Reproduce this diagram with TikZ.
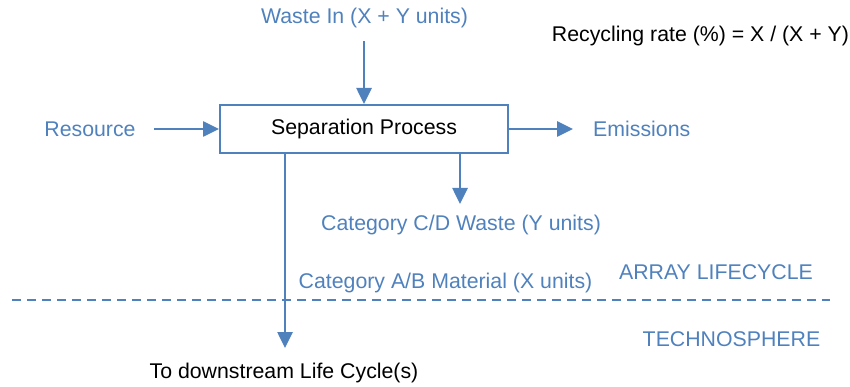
\documentclass[tikz,border=0pt]{standalone}
\usepackage{fontspec}
\setmainfont{Liberation Sans}
\usetikzlibrary{arrows.meta}
\definecolor{flowblue}{HTML}{4F81BD}
\begin{document}
\begin{tikzpicture}[x=1pt,y=-1pt,
  lbl/.style={text=flowblue, font=\fontsize{21.3}{25}\selectfont, inner sep=0pt},
  plain/.style={text=black, font=\fontsize{21.3}{25}\selectfont, inner sep=0pt},
  flow/.style={draw=flowblue, line width=2.6pt, -{Triangle[length=16pt,width=15pt]}},
  procbox/.style={draw=flowblue, line width=2pt, minimum width=288pt, minimum height=48pt, inner sep=0pt},
  boundary/.style={draw=flowblue, line width=1.7pt, dash pattern=on 9pt off 6pt}]
\useasboundingbox (0,0) rectangle (850,387);

% central process
\node[procbox, plain] (proc) at (364,129) {Separation Process};

% labels
\node[lbl] (waste) at (364.5,18) {Waste In (X + Y units)};
\node[plain] (rate) at (700.5,36) {Recycling rate (\%) = X / (X + Y)};
\node[lbl] (res) at (90,129) {Resource};
\node[lbl, anchor=west] (emis) at (593,129) {Emissions};
\node[lbl] (cdw) at (461,225) {Category C/D Waste (Y units)};
\node[lbl] (abm) at (445.5,283) {Category A/B Material (X units)};
\node[lbl] (array) at (716,272) {ARRAY LIFECYCLE};
\node[lbl] (techno) at (731.5,339) {TECHNOSPHERE};
\node[plain] (down) at (284,373) {To downstream Life Cycle(s)};

% free ends of the flows
\coordinate (wasteStart) at (364,41);
\coordinate (resStart) at (154,129);
\coordinate (emisEnd) at (573,129);
\coordinate (cdwEnd) at (460,204);
\coordinate (downEnd) at (285,348);
\coordinate (lineL) at (12,300);
\coordinate (lineR) at (830,300);

% flows
\draw[flow] (wasteStart) -- (wasteStart |- proc.north);
\draw[flow] (resStart) -- (proc.west);
\draw[flow] (proc.east) -- (emisEnd);
\draw[flow] (cdwEnd |- proc.south) -- (cdwEnd);
\draw[flow] (downEnd |- proc.south) -- (downEnd);

% system boundary
\draw[boundary] (lineL) -- (lineR);
\end{tikzpicture}
\end{document}
